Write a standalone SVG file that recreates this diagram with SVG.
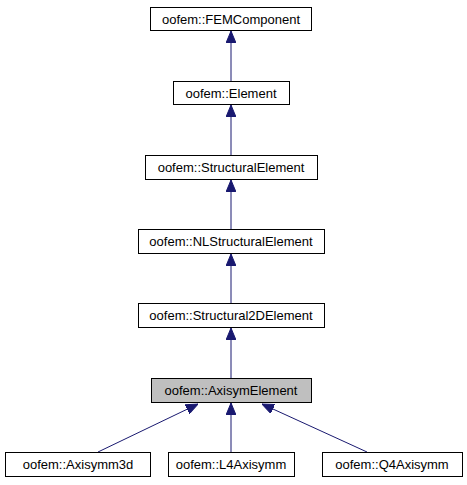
<svg xmlns="http://www.w3.org/2000/svg" width="467" height="485" viewBox="0 0 467 485">
<defs>
<style>
.n rect{fill:#ffffff;stroke:#000000;stroke-width:1}
.n.cur rect{fill:#bfbfbf}
.n text{font-family:"Liberation Sans",Arial,sans-serif;font-size:13px;fill:#000000;text-anchor:middle}
.e line{stroke:#191970;stroke-width:1;fill:none}
</style>
<marker id="ah" markerUnits="userSpaceOnUse" markerWidth="12" markerHeight="10" refX="12" refY="5" orient="auto">
<path d="M0,0 L12,5 L0,10 z" fill="#191970" stroke="#191970"/>
</marker>
</defs>
<rect width="467" height="485" fill="#ffffff"/>
<g id="edges" class="e">
<line x1="231" y1="81" x2="231" y2="31" marker-end="url(#ah)"/>
<line x1="231" y1="155" x2="231" y2="105" marker-end="url(#ah)"/>
<line x1="231" y1="229" x2="231" y2="180" marker-end="url(#ah)"/>
<line x1="231" y1="303" x2="231" y2="254" marker-end="url(#ah)"/>
<line x1="231" y1="378" x2="231" y2="328" marker-end="url(#ah)"/>
<line x1="98" y1="452" x2="198" y2="404" marker-end="url(#ah)"/>
<line x1="231" y1="452" x2="231" y2="403" marker-end="url(#ah)"/>
<line x1="367" y1="452" x2="262" y2="404" marker-end="url(#ah)"/>
</g>
<g id="FEMComponent" class="n"><rect x="150.5" y="7.5" width="161" height="23"/><text x="231" y="23.5">oofem::FEMComponent</text></g>
<g id="Element" class="n"><rect x="173.5" y="81.5" width="116" height="23"/><text x="231" y="97.5">oofem::Element</text></g>
<g id="StructuralElement" class="n"><rect x="145.5" y="155.5" width="172" height="24"/><text x="231" y="172">oofem::StructuralElement</text></g>
<g id="NLStructuralElement" class="n"><rect x="138.5" y="229.5" width="186" height="24"/><text x="231" y="246">oofem::NLStructuralElement</text></g>
<g id="Structural2DElement" class="n"><rect x="138.5" y="303.5" width="186" height="24"/><text x="231" y="320">oofem::Structural2DElement</text></g>
<g id="AxisymElement" class="n cur"><rect x="151.5" y="378.5" width="160" height="24"/><text x="231" y="395">oofem::AxisymElement</text></g>
<g id="Axisymm3d" class="n"><rect x="5.5" y="452.5" width="145" height="24"/><text x="78" y="469">oofem::Axisymm3d</text></g>
<g id="L4Axisymm" class="n"><rect x="168.5" y="452.5" width="126" height="24"/><text x="231" y="469">oofem::L4Axisymm</text></g>
<g id="Q4Axisymm" class="n"><rect x="322.5" y="452.5" width="140" height="24"/><text x="392" y="469">oofem::Q4Axisymm</text></g>
</svg>
